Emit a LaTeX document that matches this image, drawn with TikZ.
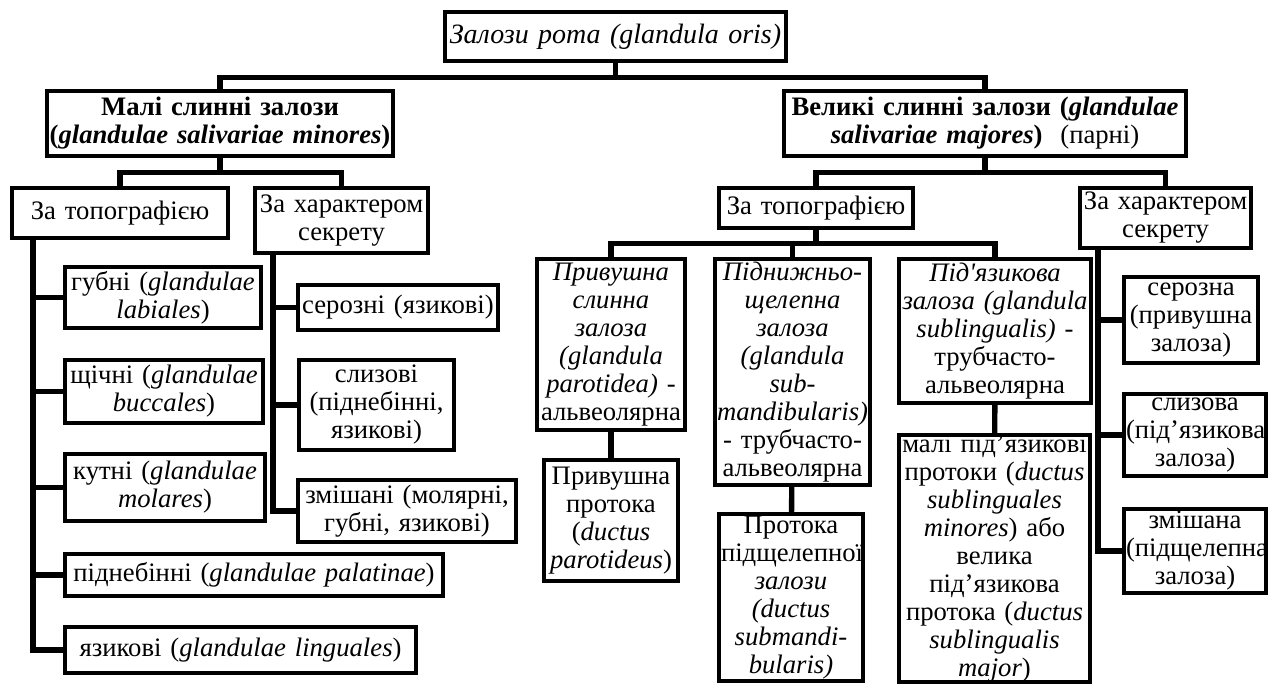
\documentclass[tikz,border=0pt]{standalone}
\usepackage{fontspec}
\setmainfont{Liberation Serif}
\begin{document}
\begin{tikzpicture}[x=0.75pt,y=-0.75pt,
  box/.style={draw=black,line width=3.4pt,fill=white,inner sep=0pt,align=center,
    font=\fontsize{20}{21}\selectfont},
  bx/.style 2 args={box,minimum width={(#1-4)*0.75pt},minimum height={(#2-4)*0.75pt},text width={(#1-8)*0.75pt}},
  conn/.style={line width=4pt,line cap=rect}]
\useasboundingbox (0,0) rectangle (1274,686);
% top
\node[bx={345}{53},font=\fontsize{21}{22}\selectfont] (top) at (615.5,36.5) {\textit{Залози рота (glandula oris)}};
\node[bx={350}{69}] (mali) at (220,123.5) {\textbf{Малі слинні залози}\\\textbf{(\textit{glandulae salivariae minores})}};
\node[bx={406}{69}] (vel) at (985,123.5) {\textbf{Великі слинні залози (\textit{glandulae}}\\\textbf{\textit{salivariae majores})}\ \ (парні)};
% left
\node[bx={220}{54}] (lt) at (120,213) {За топографією};
\node[bx={177}{69}] (lc) at (341.5,220.5) {За характером\\секрету};
\node[bx={200}{65}] (g1) at (163,297.5) {губні (\textit{glandulae}\\\textit{labiales})};
\node[bx={202}{67}] (g2) at (164,391.5) {щічні (\textit{glandulae}\\\textit{buccales})};
\node[bx={204}{71}] (g3) at (165,487.5) {кутні (\textit{glandulae}\\\textit{molares})};
\node[bx={382}{46}] (g4) at (254,575) {піднебінні (\textit{glandulae palatinae})};
\node[bx={355}{50}] (g5) at (240.5,650) {язикові (\textit{glandulae linguales})};
\node[bx={204}{49}] (s1) at (398,307.5) {серозні (язикові)};
\node[bx={159}{94}] (s2) at (376.5,405) {слизові\\(піднебінні,\\язикові)};
\node[bx={222}{66}] (s3) at (407,511) {змішані (молярні,\\губні, язикові)};
% right
\node[bx={198}{44}] (rt) at (816,208) {За топографією};
\node[bx={175}{64}] (rc) at (1165.5,218) {За характером\\секрету};
\node[bx={152}{175}] (p1) at (611,344.5) {\textit{Привушна}\\\textit{слинна}\\\textit{залоза}\\\textit{(glandula}\\\textit{parotidea)} -\\альвеолярна};
\node[bx={138}{125}] (p2) at (611,520.5) {Привушна\\протока\\(\textit{ductus}\\\textit{parotideus})};
\node[bx={159}{230}] (q1) at (792.5,372) {\textit{Піднижньо-}\\\textit{щелепна}\\\textit{залоза}\\\textit{(glandula}\\\textit{sub-}\\\textit{mandibularis)}\\- трубчасто-\\альвеолярна};
\node[bx={148}{171}] (q2) at (791,597.5) {Протока\\підщелепної\\\textit{залози}\\\textit{(ductus}\\\textit{submandi-}\\\textit{bularis)}};
\node[bx={196}{148}] (r1) at (995,331) {\textit{Під\textquotesingle язикова}\\\textit{залоза (glandula}\\\textit{sublingualis)} -\\трубчасто-\\альвеолярна};
\node[bx={195}{251}] (r2) at (994.5,558.5) {малі під’язикові\\протоки (\textit{ductus}\\\textit{sublinguales}\\\textit{minores}) або\\велика\\під’язикова\\протока (\textit{ductus}\\\textit{sublingualis}\\\textit{major})};
\node[bx={138}{90}] (t1) at (1191,320) {серозна\\(привушна\\залоза)};
\node[bx={146}{86}] (t2) at (1195,435) {слизова\\(під’язикова\\залоза)};
\node[bx={146}{88}] (t3) at (1195,551) {змішана\\(підщелепна\\залоза)};
% connectors
\draw[conn] (top.south) -- ++(0,14) coordinate (tj) -| (mali.north);
\draw[conn] (tj) -| (vel.north);
\draw[conn] (mali.south) -- ++(0,14) coordinate (mj) -| (lt.north);
\draw[conn] (mj) -| (lc.north);
\draw[conn] (vel.south) -- ++(0,14) coordinate (vj) -| (rt.north);
\draw[conn] (vj) -| (rc.north);
\draw[conn] (rt.south) -- ++(0,13) coordinate (rj) -| (p1.north);
\draw[conn] (rj) -| (q1.north);
\draw[conn] (rj) -| (r1.north);
\draw[conn] (p1) -- (p2);
\draw[conn] (q1) -- (q2);
\draw[conn] (r1) -- (r2);
% left topography spine
\coordinate (ltd) at (33,240);
\draw[conn] (ltd) |- (g5.west);
\foreach \n in {g1,g2,g3,g4} \draw[conn] (\n.west) -- (\n.west -| ltd);
% left character spine
\coordinate (lcd) at (273,255);
\draw[conn] (lcd) |- (s3.west);
\foreach \n in {s1,s2} \draw[conn] (\n.west) -- (\n.west -| lcd);
% right character spine
\coordinate (rcd) at (1098,250);
\draw[conn] (rcd) |- (t3.west);
\foreach \n in {t1,t2} \draw[conn] (\n.west) -- (\n.west -| rcd);
\end{tikzpicture}
\end{document}
